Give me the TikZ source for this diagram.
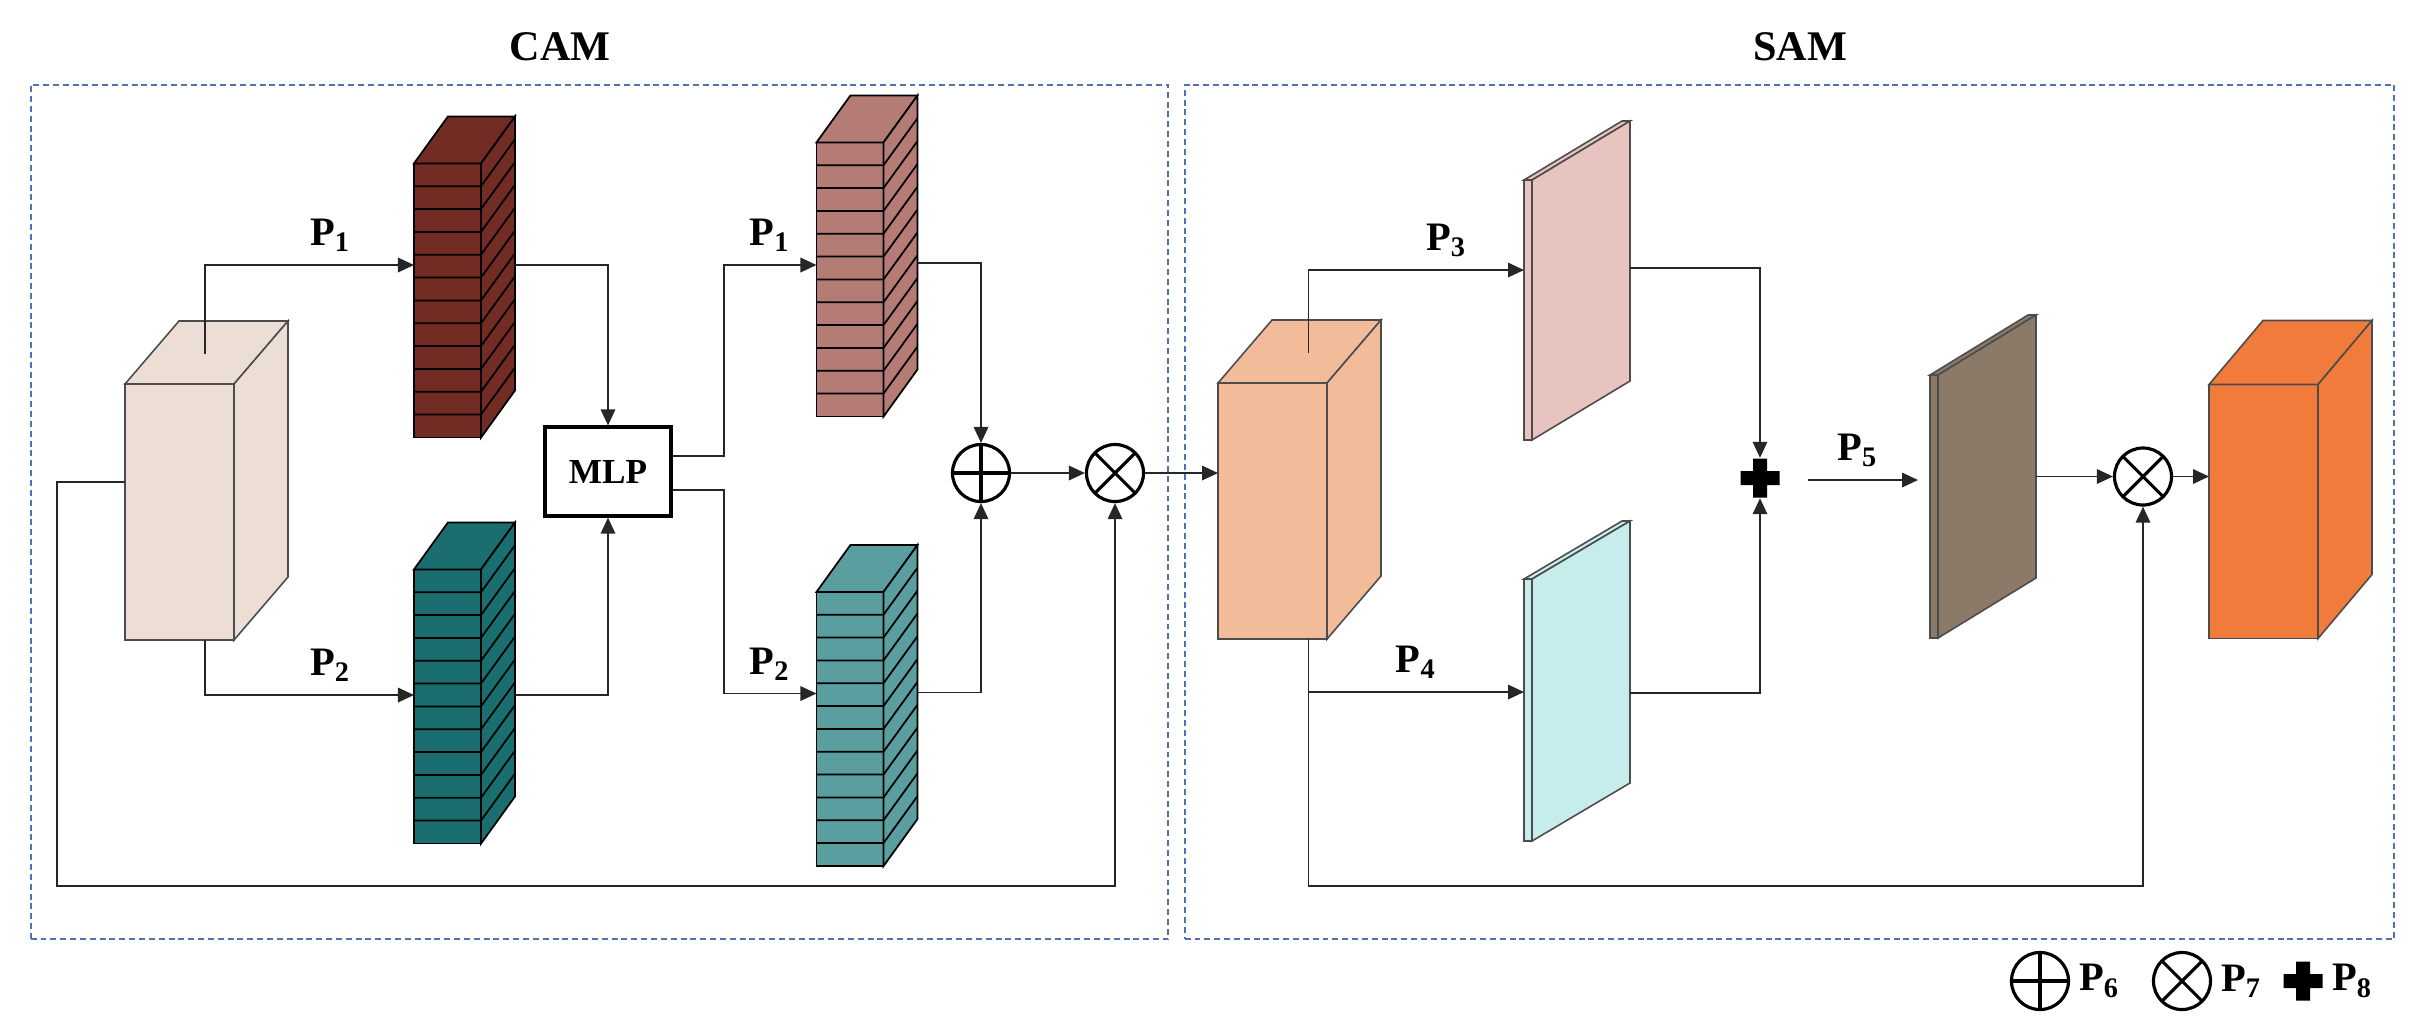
\documentclass[tikz,border=0pt]{standalone}
\usepackage{fontspec}
\setmainfont{Liberation Serif}
\usetikzlibrary{arrows.meta, positioning, calc}

\definecolor{inC}{RGB}{237,222,213}
\definecolor{maxC}{RGB}{114,44,36}
\definecolor{avgC}{RGB}{26,110,112}
\definecolor{maxLC}{RGB}{180,124,116}
\definecolor{avgLC}{RGB}{90,158,160}
\definecolor{midC}{RGB}{242,188,154}
\definecolor{spmaxC}{RGB}{232,196,192}
\definecolor{spavgC}{RGB}{198,236,236}
\definecolor{spoutC}{RGB}{140,122,104}
\definecolor{outC}{RGB}{240,123,58}
\definecolor{dashC}{RGB}{79,114,176}

\begin{document}
\begin{tikzpicture}[x=0.01cm, y=-0.01cm, >={Triangle[length=0.16cm, width=0.145cm]},
    conn/.style={draw=black!85, line width=0.5pt},
    face/.style={draw=black!70, line width=0.45pt, inner sep=0pt, outer sep=0pt},
    slab/.style={draw=black, line width=0.5pt, inner sep=0pt, outer sep=0pt},
    lbl/.style={font=\fontsize{11.5}{13}\selectfont\bfseries, inner sep=1.5pt},
    title/.style={font=\fontsize{12}{14}\selectfont\bfseries},
    mlpbox/.style={draw, line width=0.9pt, minimum width=1.26cm, minimum height=0.89cm, font=\fontsize{10}{12}\selectfont\bfseries},
    op/.style={circle, draw, line width=0.9pt, minimum size=0.57cm, inner sep=0pt},
    addop/.style={op, path picture={\draw[line width=0.9pt] (path picture bounding box.north) -- (path picture bounding box.south) (path picture bounding box.west) -- (path picture bounding box.east);}},
    mulop/.style={op, path picture={\draw[line width=0.9pt] ($(path picture bounding box.north west)!0.146!(path picture bounding box.south east)$) -- ($(path picture bounding box.north west)!0.854!(path picture bounding box.south east)$) ($(path picture bounding box.north east)!0.146!(path picture bounding box.south west)$) -- ($(path picture bounding box.north east)!0.854!(path picture bounding box.south west)$);}},
    plusop/.style={minimum size=0.39cm, inner sep=0pt, path picture={\fill ($(path picture bounding box.center)+(-19.5,-7)$) rectangle ($(path picture bounding box.center)+(19.5,7)$) ($(path picture bounding box.center)+(-7,-19.5)$) rectangle ($(path picture bounding box.center)+(7,19.5)$);}},
    dashbox/.style={draw=dashC, dash pattern=on 1.7pt off 1.1pt, line width=0.55pt, minimum height=8.54cm, inner sep=0pt}
  ]
  \useasboundingbox (0,0) rectangle (2429,1032);

  % module frames
  \node[dashbox, minimum width=11.37cm] (cam) at (599.5,512) {};
  \node[dashbox, minimum width=12.09cm] (sam) at (1789.5,512) {};
  \node[title] (camt) at (560,47) {CAM};
  \node[title] (samt) at (1800,47) {SAM};

  % cubes and sheets
  \foreach \nm/\cx/\cy/\w/\h/\dx/\dy/\col in {
      xin/179.5/512/109/256/54/-63/inC,
      xmid/1272.5/511/109/256/54/-63/midC,
      xout/2263.5/511.5/109/254/54/-64/outC,
      smax/1528/310/8/260/98/-59/spmaxC,
      savg/1528/710/8/262/98/-58/spavgC,
      sout/1934/506.5/8/263/98/-60/spoutC}{
    \node[face, fill=\col, minimum width={\w*0.01cm}, minimum height={\h*0.01cm}] (\nm) at (\cx,\cy) {};
    \draw[face, fill=\col] (\nm.north west) -- ++(\dx,\dy) -- ++(\w,0) -- (\nm.north east) -- cycle;
    \draw[face, fill=\col] (\nm.north east) -- ++(\dx,\dy) -- ++(0,\h) -- (\nm.south east) -- cycle;
  }

  % pooled stacks
  \foreach \nm/\cx/\cy/\col in {fmax/447.5/300.5/maxC, favg/447.5/706.5/avgC,
      gmax/850/279.5/maxLC, gavg/850/729/avgLC}{
    \node[slab, fill=\col, minimum width=0.67cm, minimum height=2.74cm] (\nm) at (\cx,\cy) {};
    \draw[slab, fill=\col] (\nm.north west) -- ++(34,-47) -- ++(67,0) -- (\nm.north east) -- cycle;
    \draw[slab, fill=\col] (\nm.north east) -- ++(34,-47) -- ++(0,274) -- (\nm.south east) -- cycle;
    \foreach \k in {1,...,11}
      \draw[slab] ($(\nm.north west)+(0,{\k*274/12})$) -- ++(67,0) -- ++(34,-47);
  }

  \node[mlpbox] (mlp) at (608,471.5) {MLP};
  \node[addop] (add1) at (981,473) {};
  \node[mulop] (mul1) at (1115,473) {};
  \node[plusop] (plus) at (1760,478) {};
  \node[mulop] (mul2) at (2143,476.5) {};

  % CAM connections
  \draw[conn, ->] ($(xin.north)+(25.5,-30)$) |- ($(fmax.west)+(0,-35.5)$) node[lbl, above=0.07cm, pos=0.8] {P\textsubscript{1}};
  \draw[conn, ->] ($(xin.south)+(25.5,0)$) |- ($(favg.west)+(0,-11.5)$) node[lbl, above=0.07cm, pos=0.8] {P\textsubscript{2}};
  \draw[conn, ->] ($(fmax.east)+(34,-35.5)$) -| (mlp.north);
  \draw[conn, ->] ($(favg.east)+(34,-11.5)$) -| (mlp.south);
  \draw[conn, ->] ($(mlp.east)+(0,-15.5)$) -- ++(51,0) |- ($(gmax.west)+(0,-14.5)$) node[lbl, above=0.07cm, pos=0.75] {P\textsubscript{1}};
  \draw[conn, ->] ($(mlp.east)+(0,18.5)$) -- ++(51,0) |- ($(gavg.west)+(0,-35.5)$) node[lbl, above=0.07cm, pos=0.75] {P\textsubscript{2}};
  \draw[conn, ->] ($(gmax.east)+(34,-16.5)$) -| (add1.north);
  \draw[conn, ->] ($(gavg.east)+(34,-36.5)$) -| (add1.south);
  \draw[conn, ->] (add1) -- (mul1);
  \draw[conn, ->] (mul1.east) -- (mul1.east -| xmid.west);
  \draw[conn, ->] ($(xin.west)+(0,-30)$) -- ++(-68,0) -- ++(0,404) -| (mul1.south);

  % SAM connections
  \draw[conn, ->] ($(xmid.north)+(36,-30)$) |- ($(smax.west)+(0,-40)$) node[lbl, above=0.07cm, pos=0.82] {P\textsubscript{3}};
  \draw[conn, ->] ($(xmid.south)+(36,0)$) |- ($(savg.west)+(0,-18)$) node[lbl, above=0.07cm, pos=0.75] {P\textsubscript{4}};
  \draw[conn, ->] ($(xmid.south)+(36,0)$) -- ++(0,247) -| (mul2.south);
  \draw[conn, ->] ($(smax.east)+(98,-42)$) -| (plus.north);
  \draw[conn, ->] ($(savg.east)+(98,-17)$) -| (plus.south);
  \draw[conn, ->] ($(plus.east)+(28,2)$) -- ($(sout.west)+(-12,-26.5)$) node[lbl, above=0.07cm, pos=0.45] {P\textsubscript{5}};
  \draw[conn, ->] ($(sout.east)+(98,-30)$) -- (mul2.west);
  \draw[conn, ->] (mul2.east) -- (mul2.east -| xout.west);

  % legend
  \node[addop] (leg1) at (2040,981) {};
  \node[lbl, right=0.03cm of leg1] (leg1t) {P\textsubscript{6}};
  \node[mulop] (leg2) at (2182,981) {};
  \node[lbl, right=0.03cm of leg2] (leg2t) {P\textsubscript{7}};
  \node[plusop] (leg3) at (2303,981) {};
  \node[lbl, right=0.03cm of leg3] (leg3t) {P\textsubscript{8}};
\end{tikzpicture}
\end{document}
